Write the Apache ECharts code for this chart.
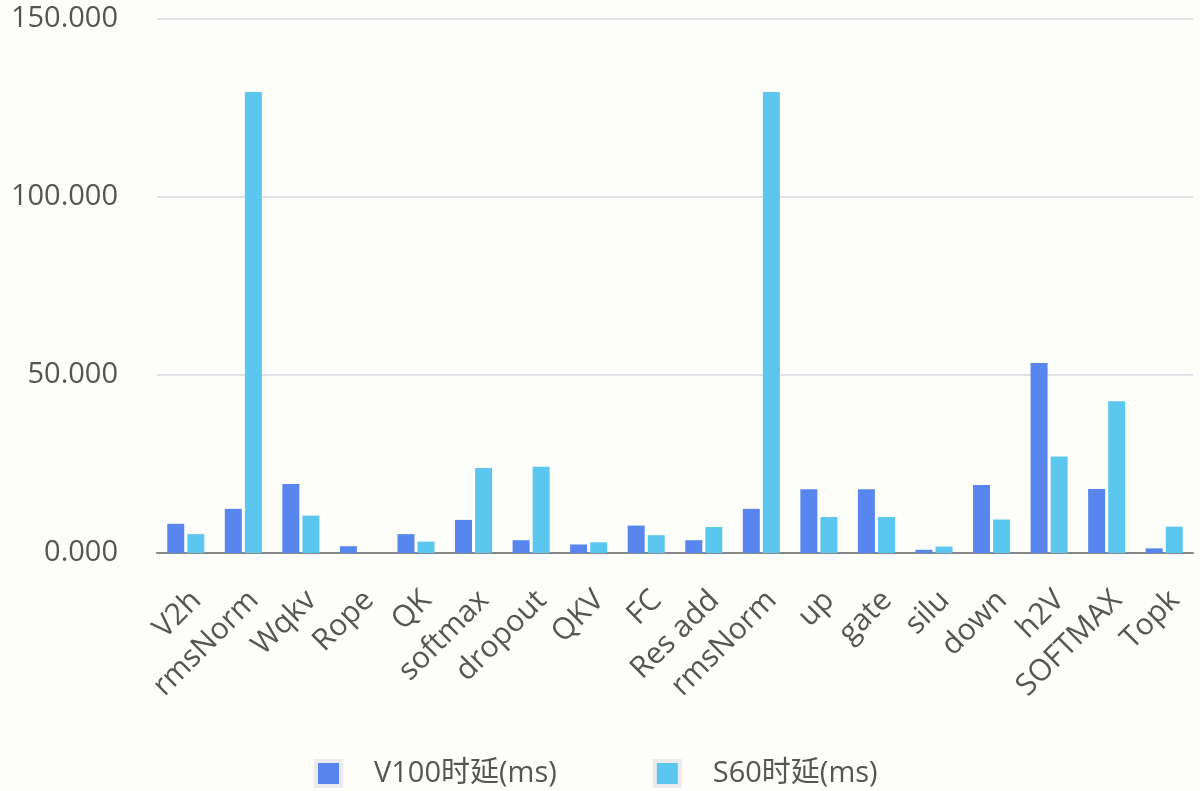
<!DOCTYPE html>
<html>
<head>
<meta charset="utf-8">
<script src="https://cdn.jsdelivr.net/npm/echarts@6/dist/echarts.min.js"></script>
<style>
  html, body { margin: 0; padding: 0; background: #fdfdfa; }
  #chart { width: 1200px; height: 791px; }
</style>
</head>
<body>
<div id="chart"></div>
<script>
// 算子名称
var categories = ['V2h', 'rmsNorm', 'Wqkv', 'Rope', 'QK', 'softmax', 'dropout', 'QKV', 'FC',
  'Res add', 'rmsNorm', 'up', 'gate', 'silu', 'down', 'h2V', 'SOFTMAX', 'Topk'];
// V100 时延
var v100 = [8.2, 12.4, 19.4, 1.9, 5.3, 9.3, 3.6, 2.4, 7.7, 3.6, 12.4, 17.9, 17.9, 0.9, 19.1, 53.4, 18.0, 1.3];
// S60 时延
var s60 = [5.3, 129.5, 10.5, 0, 3.2, 23.9, 24.2, 3.0, 5.0, 7.3, 129.5, 10.1, 10.1, 1.8, 9.4, 27.1, 42.6, 7.4];
var seriesNames = ['V100时延(ms)', 'S60时延(ms)'];

var myChart = echarts.init(document.getElementById('chart'));
var font = '"Open Sans", "Noto Sans CJK SC", sans-serif';
var option = {
  backgroundColor: '#fdfdfa',
  color: ['#5986ee', '#5bc7ee'],
  grid: {
    left: 157,
    right: 7,
    top: 19,
    bottom: 238
  },
  legend: {
    top: 754,
    left: 309,
    itemWidth: 25,
    itemHeight: 25,
    itemGap: 96,
    icon: 'rect',
    itemStyle: { borderColor: '#ebebef', borderWidth: 4 },
    textStyle: { fontSize: 29, color: '#555', fontFamily: font, padding: [0, 0, 0, 28] },
    data: seriesNames
  },
  xAxis: {
    type: 'category',
    data: categories,
    axisTick: { show: false },
    axisLine: { lineStyle: { color: '#888', width: 2 } },
    axisLabel: {
      rotate: 45,
      interval: 0,
      margin: 32,
      fontSize: 30,
      color: '#555',
      fontFamily: font,
      align: 'right',
      verticalAlign: 'top'
    }
  },
  yAxis: {
    type: 'value',
    min: 0,
    max: 150,
    interval: 50,
    axisLabel: {
      fontSize: 29,
      color: '#555',
      margin: 39,
      fontFamily: font,
      formatter: function (v) { return v.toFixed(3); }
    },
    splitLine: { lineStyle: { color: '#e2e2e8', width: 2 } }
  },
  series: [
    { name: seriesNames[0], type: 'bar', data: v100, barWidth: 17, barGap: '18%' },
    { name: seriesNames[1], type: 'bar', data: s60, barWidth: 17 }
  ]
};
myChart.setOption(option);
</script>
</body>
</html>
